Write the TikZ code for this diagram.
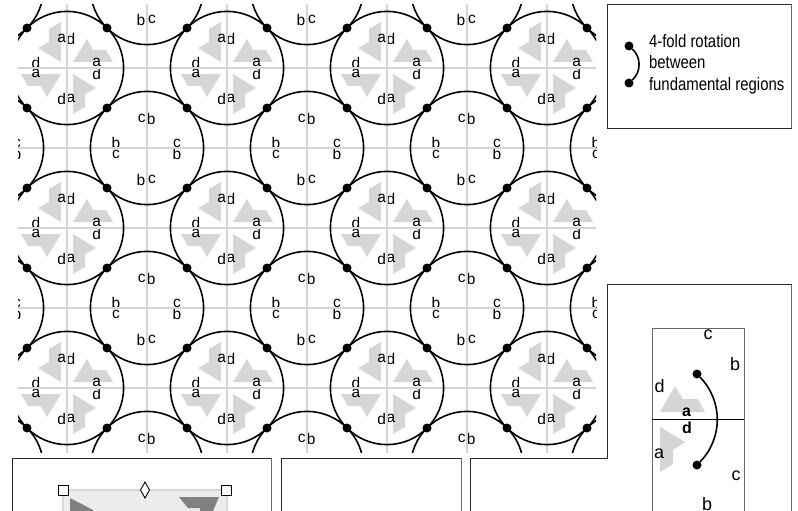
\documentclass[tikz,border=0pt]{standalone}
\usepackage{fontspec}
\setmainfont{Liberation Sans}
\newfontfamily\narrowfont[FakeStretch=0.83]{Liberation Sans}
\usetikzlibrary{shapes,arrows,positioning,fit,backgrounds}
\definecolor{marco}{RGB}{40, 40, 40}
\definecolor{marcogris}{RGB}{105, 105, 105}
\definecolor{rejilla}{RGB}{212, 212, 212}
\definecolor{motivo}{RGB}{214, 214, 214}
\definecolor{oscuro}{RGB}{128, 128, 128}
\definecolor{fondo}{RGB}{236, 236, 236}
\definecolor{borde}{RGB}{216, 216, 216}

\begin{document}
\begin{tikzpicture}[x=1pt, y=-1pt,
            every node/.style={inner sep=0pt, outer sep=0pt},
            letra/.style={font=\fontsize{15.5}{16}\selectfont},
            letragrande/.style={font=\fontsize{18}{18}\selectfont},
            negrita/.style={font=\fontsize{16}{16}\selectfont\bfseries},
            punto/.style={circle, fill=black, minimum size=9pt},
            arco/.style={line width=1.6pt},
            asa/.style={rectangle, draw=black, fill=white, line width=0.9pt, minimum size=10pt},
            rombo/.style={diamond, draw=black, fill=white, line width=0.9pt, minimum width=9pt, minimum height=16pt},
            negro/.style={draw=marco, line width=0.9pt},
            gris/.style={draw=marcogris, line width=0.9pt}]

            \useasboundingbox (0,0) rectangle (798,511);

            % Mosaico
            \begin{scope}
                \clip (18,4.5) rectangle (596,452.5);

                % Motivos
                \foreach \cx in {67,227,387,547} {
                    \foreach \cy in {68,228,388} {
                        \foreach \r in {0,90,180,270} {
                            \fill[motivo, shift={(\cx,\cy)}, rotate=\r] (20,-29) -- (6,-6) -- (46,-6) -- (39,-18) -- (26,-18) -- cycle;
                        }
                    }
                }

                % Letras de los motivos
                \foreach \cx in {67,227,387,547} {
                    \foreach \cy in {68,228,388} {
                        \foreach \dx/\dy/\l [count=\n] in {-5.3/-30/a, 4/-29.3/d, 29.7/-5.3/a, 29.7/6/d, -5.3/31.3/d, 4/30.3/a, -31/-4.7/d, -31/5.3/a} {
                            \node[letra] (mot\cx-\cy-\n) at (\cx+\dx,\cy+\dy) {\l};
                        }
                    }
                }

                % Letras de los otros circulos
                \foreach \cx in {-13,147,307,467,627} {
                    \foreach \cy in {-12,148,308,468} {
                        \foreach \dx/\dy/\l [count=\n] in {-5.3/-30/c, 4.3/-29/b, 30/-5/c, 30/6/b, -6/32/b, 5/31/c, -31/-5/b, -31/6/c} {
                            \node[letra] (cir\cx-\cy-\n) at (\cx+\dx,\cy+\dy) {\l};
                        }
                    }
                }

                % Rejilla
                \foreach \x in {67,147,...,547} {
                    \draw[rejilla, line width=1.7pt] (\x,4.5) -- (\x,452.5);
                }
                \foreach \y in {68,148,...,388} {
                    \draw[rejilla, line width=1.7pt] (18,\y) -- (596,\y);
                }

                % Circulos
                \foreach \cx in {67,227,387,547} {
                    \foreach \cy in {68,228,388} {
                        \draw[arco] (\cx,\cy) circle[radius=56.6pt];
                    }
                }
                \foreach \cx in {-13,147,307,467,627} {
                    \foreach \cy in {-12,148,308,468} {
                        \draw[arco] (\cx,\cy) circle[radius=56.6pt];
                    }
                }

                % Puntos
                \foreach \x in {27,107,...,587} {
                    \foreach \y in {28,108,...,428} {
                        \node[punto] (p\x-\y) at (\x,\y) {};
                    }
                }
            \end{scope}

            % Leyenda
            \draw[negro] (607,128) |- (791.5,4.5);
            \draw[negro] (607,128) -- (791.5,128);
            \draw[gris] (791.5,4.5) -- (791.5,128);
            \node[punto] (legarriba) at (629,46) {};
            \node[punto] (legabajo) at (629,83) {};
            \draw[arco] (legarriba) to[bend left=48] (legabajo);
            \node[anchor=north west, align=left, font=\narrowfont\fontsize{18}{21.5}\selectfont] (leyenda) at (649,34) {4-fold rotation\\between\\fundamental regions};

            % Marco en L
            \draw[negro] (470,511) |- (607,458) |- (791.5,284.5);
            \draw[gris] (791.5,284.5) -- (791.5,511);

            % Region fundamental
            \fill[motivo] (675,386) -- (660,412) -- (705,412) -- (698,399) -- (683,399) -- cycle;
            \fill[motivo] (660,427) -- (685,442) -- (673,450) -- (673,464) -- (660,472) -- cycle;
            \draw[gris] (652,511) |- (744,328) -- (744,511);
            \draw[black, line width=0.8pt] (652,419) -- (744,419);
            \node[punto] (rotarriba) at (697,374) {};
            \node[punto] (rotabajo) at (697,465) {};
            \draw[arco] (rotarriba) to[bend left=44] (rotabajo);
            \node[letragrande] (c1) at (708,335) {c};
            \node[letragrande] (b1) at (735,364) {b};
            \node[letragrande] (d1) at (659.5,386) {d};
            \node[negrita] (a0) at (686.5,412) {a};
            \node[negrita] (d0) at (687,428) {d};
            \node[letragrande] (a1) at (659,454) {a};
            \node[letragrande] (c2) at (736,476) {c};
            \node[letragrande] (b2) at (707,504) {b};

            % Paneles de abajo
            \draw[negro] (12,511) |- (271,458);
            \draw[gris] (271,458) -- (271,511);
            \draw[negro] (281,511) |- (461,458);
            \draw[gris] (461,458) -- (461,511);

            % Cuadro seleccionado
            \fill[fondo] (63,490) rectangle (227,511);
            \draw[borde, line width=1.6pt] (63,511) |- (227,490) -- (227,511);
            \fill[oscuro] (70,498) -- (93,510) -- (93,511) -- (70,511) -- cycle;
            \fill[oscuro] (179,497) -- (219,497) -- (213,511) -- (200,511) -- (200,508) -- (188,508) -- cycle;
            \node[asa] (asaizq) at (63,490) {};
            \node[asa] (asader) at (226,490) {};
            \node[rombo] (asamedio) at (145,490) {};

        \end{tikzpicture}
\end{document}
